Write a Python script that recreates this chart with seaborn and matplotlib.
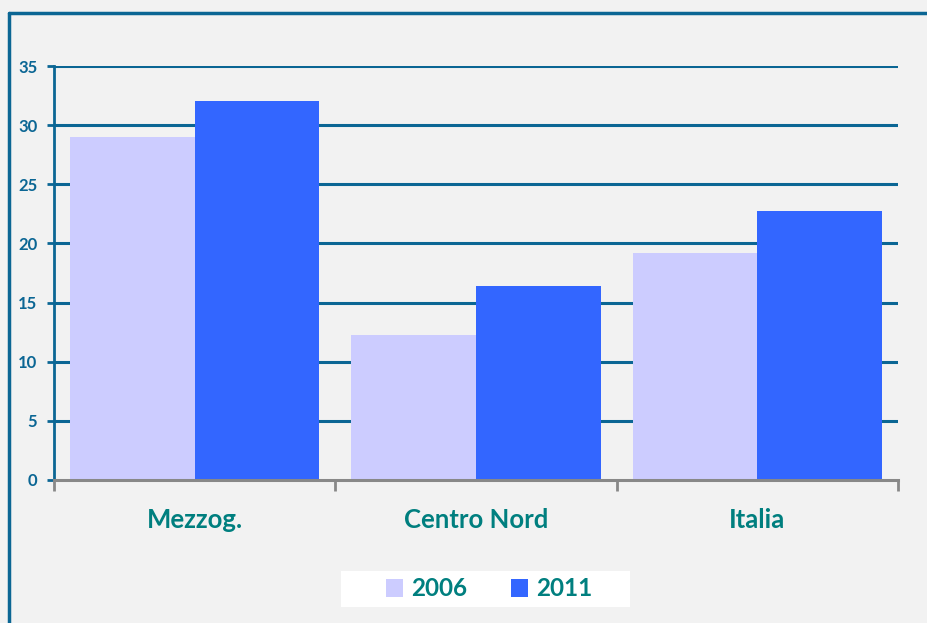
import pandas as pd
import matplotlib.pyplot as plt
import seaborn as sns
from matplotlib.lines import Line2D
from matplotlib.patches import Patch, Rectangle

regions = ["Mezzog.", "Centro Nord", "Italia"]
years = ["2006", "2011"]
v2006 = [29.0, 12.3, 19.2]
v2011 = [32.0, 16.4, 22.7]

df = pd.DataFrame({
    "region": regions * 2,
    "year": ["2006"] * 3 + ["2011"] * 3,
    "value": v2006 + v2011,
})

BLUE = "#0B6694"
TEAL = "#007F7F"
BG = "#F2F2F2"
palette = {"2006": "#CCCCFF", "2011": "#3366FF"}

sns.set_style("white")
plt.rcParams["font.family"] = ["Lato", "DejaVu Sans"]

fig = plt.figure(figsize=(9.27, 6.23), dpi=100, facecolor=BG)
ax = fig.add_axes([54 / 927, 1 - 480 / 623, (898 - 54) / 927, (480 - 66) / 623])
ax.set_facecolor(BG)

sns.barplot(data=df, x="region", y="value", hue="year", palette=palette,
            width=0.886, gap=0, saturation=1, linewidth=0, ax=ax,
            legend=False, zorder=3)

ax.set_ylim(0, 35)
ax.set_xlim(-0.5, 2.5)
ax.set_yticks(range(0, 36, 5))
ax.set_xlabel("")
ax.set_ylabel("")
for y in range(5, 36, 5):
    ax.axhline(y, color=BLUE, lw=2.2, zorder=1)

for s in ["top", "right"]:
    ax.spines[s].set_visible(False)
ax.spines["left"].set_color(BLUE)
ax.spines["left"].set_linewidth(2)
ax.spines["bottom"].set_color("#888888")
ax.spines["bottom"].set_linewidth(2.2)
ax.spines["bottom"].set_zorder(4)

ax.tick_params(axis="y", left=True, direction="out", length=5, width=2, color=BLUE,
               labelcolor=BLUE, labelsize=12, pad=7)
for t in ax.get_yticklabels():
    t.set_fontweight("bold")

# boundary ticks on category axis
ax.set_xticks([0, 1, 2])
ax.set_xticklabels(regions, fontsize=18.5, fontweight="bold", color=TEAL)
ax.tick_params(axis="x", which="major", bottom=True, length=0, pad=20)
ax.set_xticks([-0.5, 0.5, 1.5, 2.5], minor=True)
ax.tick_params(axis="x", which="minor", bottom=True, direction="out", length=8,
               width=2, color="#888888")

# outer frame
fig.add_artist(Line2D([9 / 927, 9 / 927], [0, 1 - 13 / 623], color=BLUE, lw=2.5,
                      transform=fig.transFigure))
fig.add_artist(Line2D([9 / 927, 1], [1 - 13 / 623, 1 - 13 / 623], color=BLUE, lw=2.5,
                      transform=fig.transFigure))

# legend box
fig.add_artist(Rectangle((341 / 927, 1 - 607 / 623), 289 / 927, 36 / 623,
                         facecolor="white", edgecolor="none",
                         transform=fig.transFigure, zorder=0))
handles = [Patch(facecolor=palette[y], edgecolor="none") for y in years]
leg = ax.legend(handles, years, ncol=2, loc="center",
                bbox_to_anchor=(489 / 927, 1 - 589 / 623),
                bbox_transform=fig.transFigure, frameon=False,
                handlelength=0.7, handleheight=0.7, handletextpad=0.33,
                columnspacing=1.8, borderpad=0, borderaxespad=0,
                prop={"size": 17.5, "weight": "bold"})
for t in leg.get_texts():
    t.set_color(TEAL)

fig.savefig("out.png", dpi=100, facecolor=BG)
